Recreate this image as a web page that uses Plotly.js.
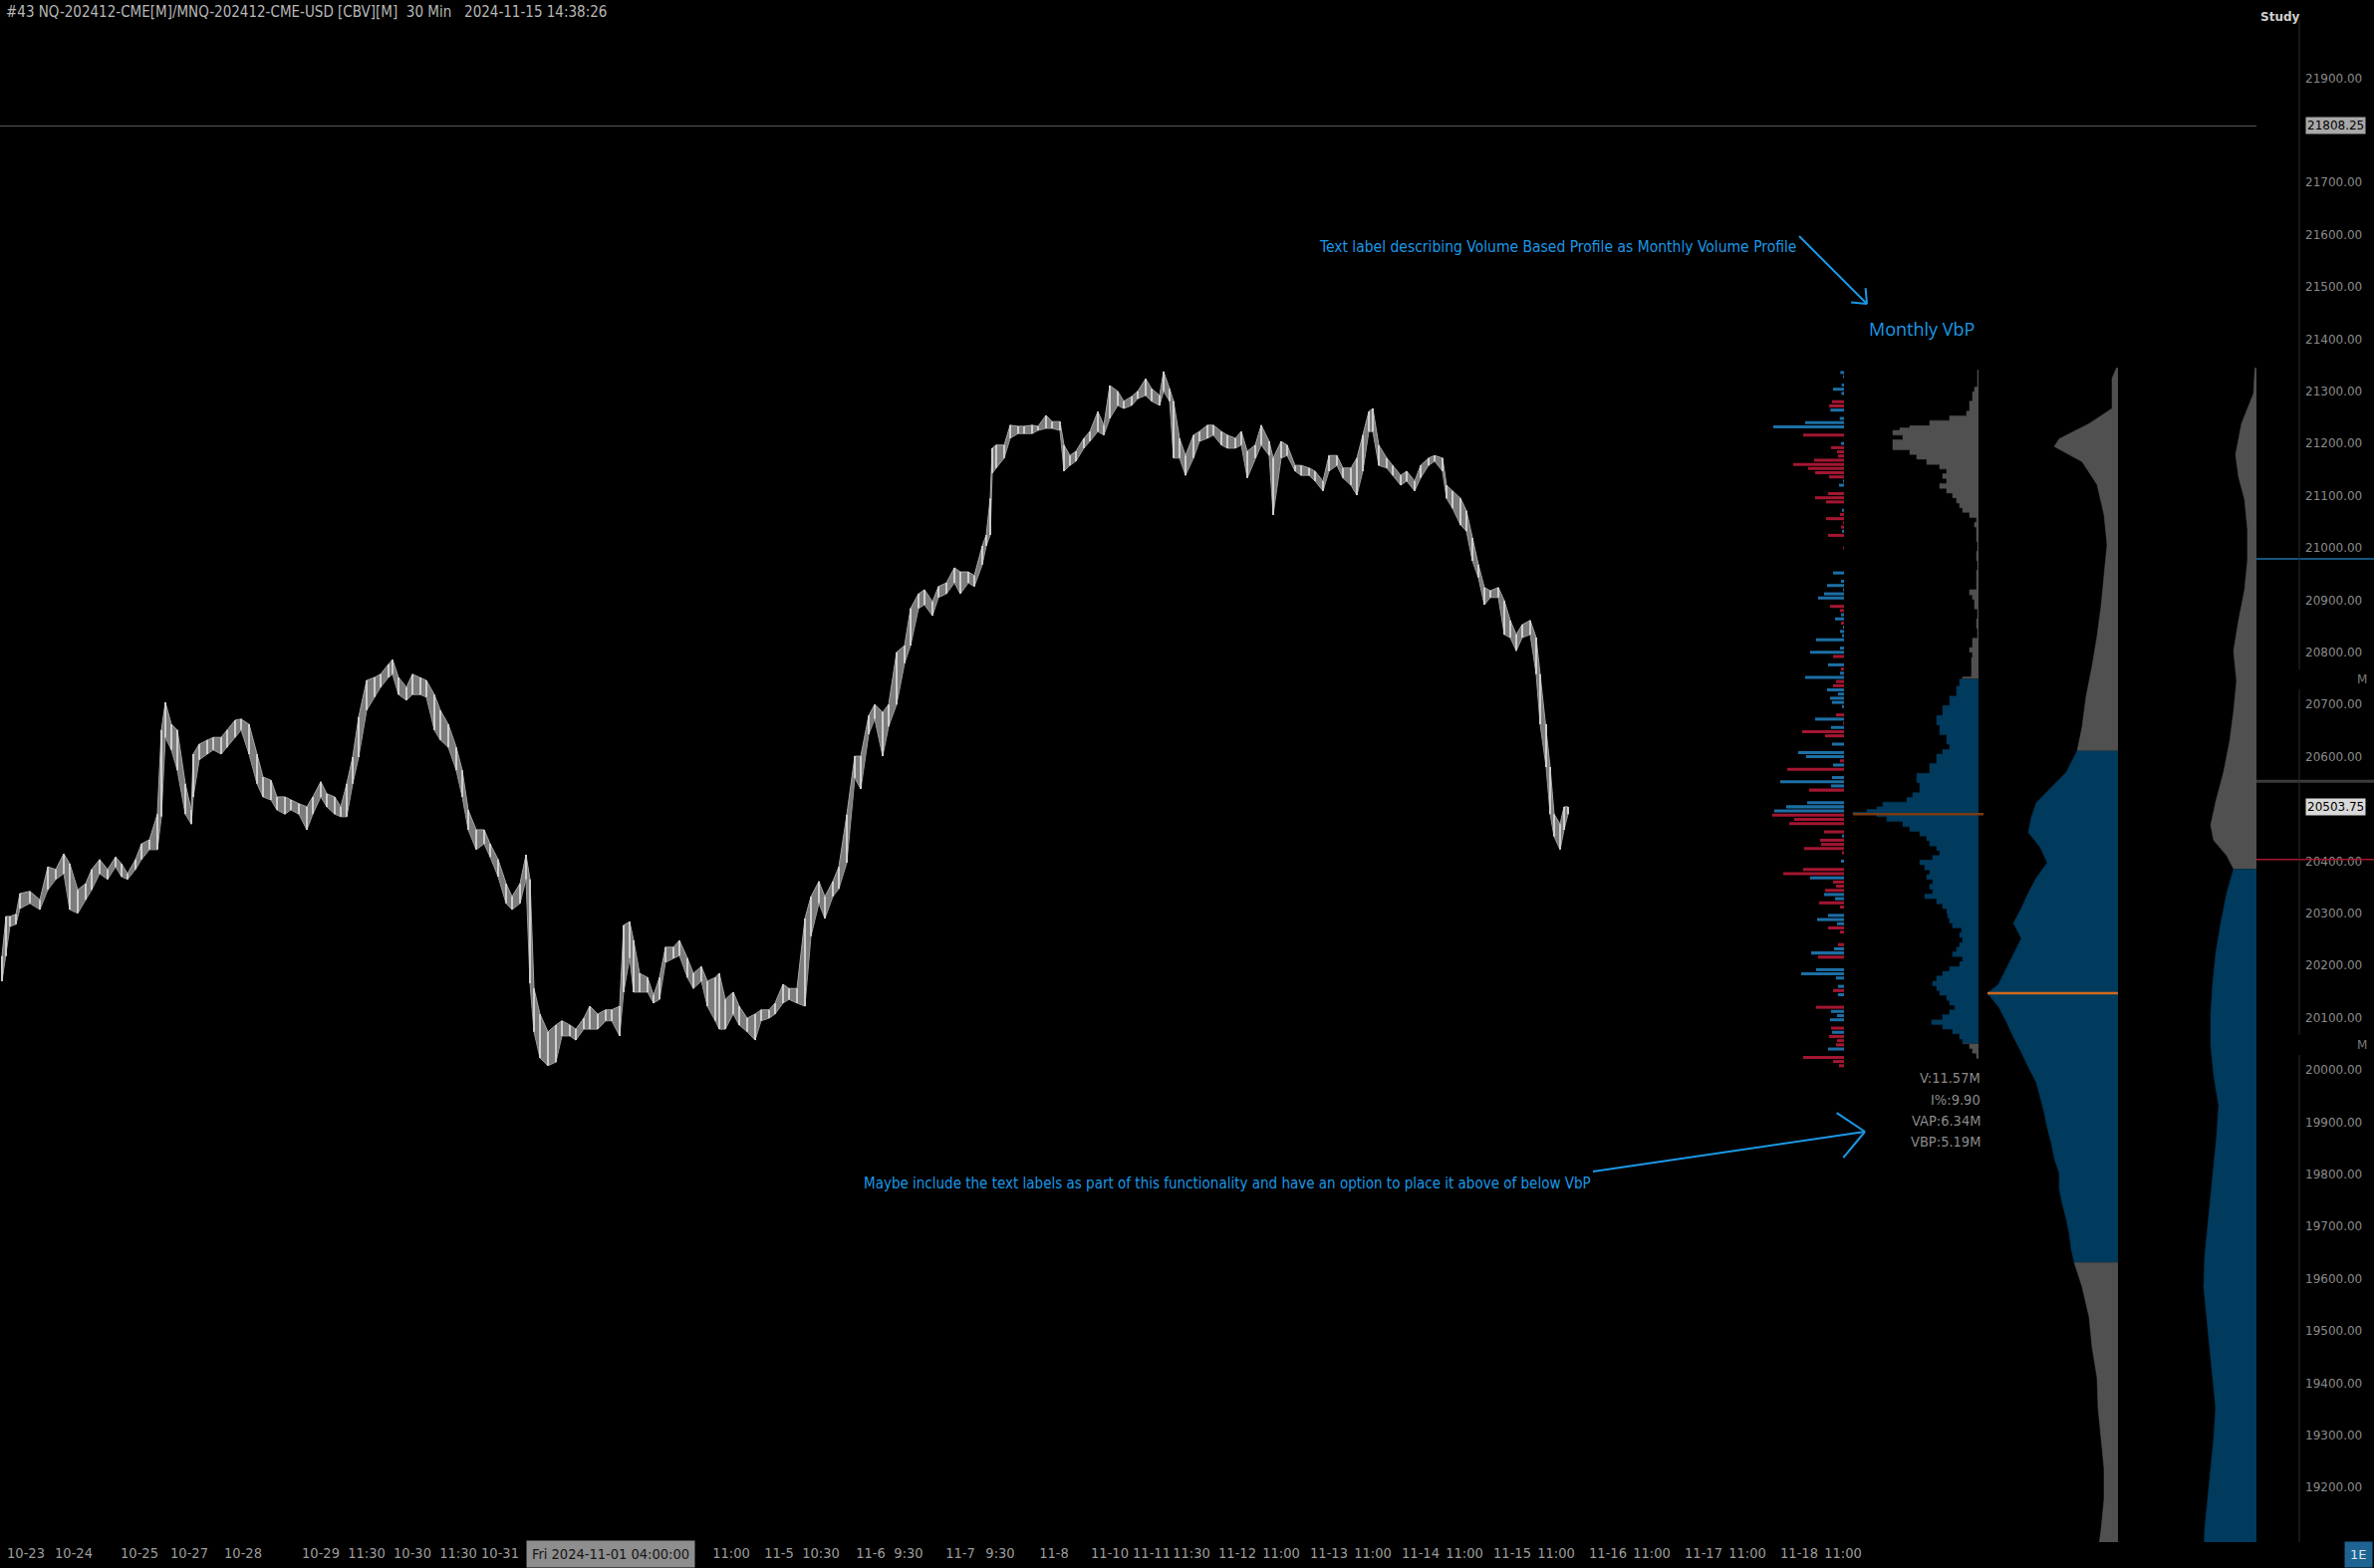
<!DOCTYPE html>
<html><head><meta charset="utf-8">
<script src="https://cdn.plot.ly/plotly-3.0.1.min.js"></script>
<style>html,body{margin:0;padding:0;background:#000;overflow:hidden}#chart{width:2383px;height:1574px}</style>
</head><body><div id="chart"></div>
<script>
// ---------------- DATA ----------------
// 30-min bars of NQ, sampled (bar number from left edge), highs / lows
const priceBar = [1,3,5,8,10,15,20,24,28,32,35,39,43,46,50,54,58,61,64,68,71,75,79,81,83,86,89,93,96,97,100,104,107,111,114,118,121,125,129,132,136,139,143,146,150,154,157,161,164,168,171,174,177,180,184,188,191,195,197,200,204,207,211,214,218,221,225,229,232,235,239,243,246,250,254,257,261,264,266,268,271,275,279,282,286,289,293,296,300,304,307,311,313,316,318,321,325,328,331,334,338,341,345,348,352,355,359,361,364,368,371,375,379,382,386,389,393,396,400,404,407,411,414,418,421,425,429,432,436,439,443,446,450,454,457,461,464,468,471,475,479,482,486,489,493,495,497,498,500,504,507,511,514,518,521,525,528,532,534,537,540,544,547,551,554,557,561,564,568,571,575,578,582,584,587,589,592,595,599,602,606,609,613,616,620,623,626,630,633,637,639,643,646,650,653,657,660,664,667,671,674,678,681,684,687,689,692,696,699,703,706,710,713,717,720,724,726,729,733,736,739,742,745,748,752,755,758,761,764,768,771,773,776,778,780,783,785,787];
const priceHigh = [20218,20294,20294,20298,20338,20342,20326,20389,20384,20414,20395,20345,20357,20384,20403,20384,20408,20395,20376,20403,20433,20441,20490,20651,20704,20662,20651,20548,20498,20605,20624,20632,20637,20637,20651,20670,20672,20662,20605,20561,20555,20523,20523,20517,20510,20504,20523,20552,20529,20523,20504,20548,20599,20676,20746,20752,20758,20777,20786,20752,20733,20758,20752,20746,20719,20689,20662,20618,20574,20498,20460,20460,20433,20403,20357,20332,20357,20412,20365,20156,20107,20073,20086,20094,20086,20078,20099,20122,20107,20115,20115,20122,20277,20284,20248,20185,20177,20143,20177,20235,20235,20248,20214,20185,20198,20170,20177,20185,20135,20149,20122,20099,20107,20115,20115,20128,20164,20156,20156,20290,20332,20361,20332,20361,20389,20489,20601,20601,20679,20700,20685,20700,20800,20813,20884,20912,20920,20897,20926,20933,20962,20954,20954,20947,21004,21025,21095,21191,21197,21197,21235,21233,21233,21235,21233,21254,21242,21242,21197,21177,21185,21210,21223,21261,21235,21311,21300,21281,21290,21300,21324,21305,21292,21338,21305,21281,21210,21177,21216,21223,21235,21235,21223,21216,21210,21223,21185,21197,21235,21204,21172,21204,21197,21158,21158,21153,21147,21128,21177,21177,21153,21153,21172,21216,21261,21267,21197,21172,21158,21139,21147,21128,21158,21172,21177,21172,21120,21109,21095,21071,21019,20968,20924,20918,20924,20899,20861,20834,20853,20861,20828,20758,20662,20580,20490,20471,20504,20504];
const priceLow = [20170,20218,20275,20279,20309,20319,20307,20345,20365,20376,20307,20300,20326,20345,20376,20365,20389,20370,20365,20384,20403,20422,20422,20485,20637,20613,20574,20490,20471,20523,20594,20605,20613,20605,20618,20637,20651,20605,20548,20523,20517,20498,20490,20498,20490,20460,20490,20523,20504,20490,20485,20485,20548,20599,20689,20714,20733,20752,20758,20719,20708,20719,20719,20714,20651,20632,20618,20574,20523,20460,20422,20433,20408,20370,20319,20307,20319,20365,20166,20073,20023,20008,20015,20065,20065,20057,20078,20078,20078,20094,20094,20065,20149,20214,20149,20149,20149,20128,20135,20206,20214,20219,20177,20156,20170,20122,20094,20078,20078,20107,20086,20073,20057,20094,20099,20107,20128,20135,20128,20122,20256,20319,20290,20332,20347,20397,20559,20538,20643,20672,20601,20658,20700,20779,20813,20884,20891,20870,20905,20912,20933,20912,20933,20926,20968,21004,21025,21143,21153,21172,21210,21219,21219,21219,21225,21229,21229,21225,21147,21158,21166,21191,21204,21223,21216,21248,21273,21267,21273,21286,21292,21281,21273,21300,21281,21172,21172,21139,21172,21204,21210,21216,21197,21191,21191,21197,21134,21172,21197,21177,21063,21172,21177,21147,21139,21139,21128,21109,21147,21158,21134,21120,21101,21147,21223,21223,21158,21153,21139,21120,21128,21109,21134,21158,21166,21147,21095,21076,21044,21032,20975,20943,20891,20905,20905,20834,20828,20803,20828,20834,20758,20662,20580,20490,20447,20422,20460,20490];

// x-axis labels (bar number, text)
const xTickBars = [13,37,70,95,122,161,184,207,230,251,367,391,412,437,456,482,502,529,557,578,598,621,643,667,689,713,735,759,781,807,829,855,877,903,925];
const xTickText = ["10-23","10-24","10-25","10-27","10-28","10-29","11:30","10-30","11:30","10-31","11:00","11-5","10:30","11-6","9:30","11-7","9:30","11-8","11-10","11-11","11:30","11-12","11:00","11-13","11:00","11-14","11:00","11-15","11:00","11-16","11:00","11-17","11:00","11-18","11:00"];
const crosshairBar = 306.5, crosshairText = "Fri 2024-11-01 04:00:00";

// price axis
const yTickVals = [19200,19300,19400,19500,19600,19700,19800,19900,20000,20100,20200,20300,20400,20600,20700,20800,20900,21000,21100,21200,21300,21400,21500,21600,21700,21900];
const lastPrice = 20503.75, markedLevel = 21808.25;
const blueLevel = 20979, redLevel = 20403, greyLevel = 20553;

// Profile A: buy(+)/sell(-) volume per 8-point row, from top row down
const PROF_A_TOP = 21344, PROF_A_STEP = 8;
const profADelta = [6,17,9,6,13,39,14,6,-42,-51,47,-6,19,123,219,6,-129,-6,15,-45,-27,-24,-96,-159,-114,-93,-51,9,21,6,-54,-93,-60,-6,12,-18,-60,-9,-15,12,-54,6,6,-9,6,6,-6,-6,-6,39,6,15,57,9,66,84,6,-48,-18,15,33,-15,9,18,12,90,6,18,108,-39,-6,54,-15,18,123,-30,-39,57,24,48,42,12,6,-30,93,-9,45,-132,-63,6,42,-6,144,120,-18,39,-177,6,42,198,45,-111,6,-6,117,180,216,-222,-156,-171,-6,-66,12,-78,-75,-126,-12,-6,15,-6,-129,-189,108,-39,-30,-63,66,33,-81,-18,6,54,87,27,-54,-18,6,-6,-24,36,105,-84,-6,6,90,135,30,6,24,-39,24,-6,-6,-90,45,27,48,6,-45,42,-51,-27,-30,54,6,-129,-39,-21];

// Profile B: Monthly VbP (price level, volume)
const profBPrice = [21341,21308,21299,21281,21262,21253,21244,21234,21230,21225,21220,21216,21207,21197,21188,21179,21170,21160,21151,21142,21133,21123,21114,21105,21096,21086,21077,21068,21058,21049,21040,21031,21012,20994,20975,20957,20938,20920,20910,20901,20883,20864,20846,20827,20809,20800,20790,20772,20753,20749,20735,20716,20698,20679,20661,20642,20624,20614,20605,20587,20568,20550,20531,20522,20513,20504,20499,20494,20490,20485,20476,20466,20457,20448,20439,20429,20420,20411,20402,20393,20383,20374,20365,20356,20346,20337,20328,20318,20309,20300,20291,20281,20272,20263,20254,20244,20235,20226,20217,20207,20198,20189,20180,20170,20161,20152,20143,20133,20124,20115,20106,20096,20087,20078,20069,20059,20050,20041,20032,20022,20009];
const profBVol = [3,6,9,11,14,17,34,54,74,84,91,91,81,91,91,74,67,57,44,37,41,37,44,37,31,27,24,21,14,7,9,7,7,6,7,6,7,7,14,11,9,6,7,6,11,14,11,12,12,21,24,27,34,41,47,44,37,34,41,47,54,67,64,71,77,101,107,117,131,107,97,81,74,64,57,54,47,44,51,64,59,54,57,51,54,51,59,47,41,37,36,34,31,22,24,21,24,27,31,21,24,34,41,47,51,47,44,37,34,29,34,41,52,41,31,24,21,14,11,7,4];
const profB_VAH = 20749, profB_VAL = 20050, profB_POC = 20490;
const profBStats = ["V:11.57M","I%:9.90","VAP:6.34M","VBP:5.19M"];

// Profile C
const profCPrice = [21345,21325,21267,21238,21209,21194,21165,21121,21063,21006,20948,20889,20831,20774,20716,20658,20611,20570,20541,20512,20484,20455,20426,20397,20368,20339,20310,20281,20252,20222,20193,20164,20147,20121,20092,20063,20034,20005,19976,19947,19918,19889,19860,19831,19802,19773,19744,19715,19686,19657,19631,19584,19526,19468,19410,19352,19294,19236,19178,19120,19062];
const profCVol = [1.5,6,6,29,59,64,36,21,14,11,14,17,21,26,32,36,41,52,67,82,87,90,78,71,82,90,97,105,97,105,112,120,131,120,112,105,97,90,82,78,74,71,67,64,59,59,56,52,49,47,44,36,29,26,21,20,17,14,14,17,21];
const profC_VAH = 20611, profC_VAL = 19631, profC_POC = 20147;

// Profile D
const profDPrice = [21345,21296,21238,21179,21136,21093,21035,20977,20919,20861,20803,20745,20687,20629,20571,20513,20469,20440,20411,20385,20338,20280,20222,20164,20106,20048,19990,19932,19874,19816,19758,19700,19642,19584,19526,19468,19410,19352,19294,19236,19178,19120,19062];
const profDVol = [1.5,3,15,21,18,12,9,9,12,18,23,20,23,27,33,41,46,43,30,23,30,36,41,44,46,46,43,38,40,43,46,49,52,53,50,47,44,41,43,46,49,52,53];
const profD_VAH = 20385;

// ---------------- LAYOUT HELPERS ----------------
const W = 2383, H = 1574, MR = 118, MB = 26;
const PW = W - MR, PH = H - MB;
const Y_MIN = 19095.4, Y_MAX = 22049.6;
const px2x = px => px / PW;
const px2y = py => 1 - py / PH;
const price2y = p => (p - Y_MIN) / (Y_MAX - Y_MIN);
const dom = (l, r) => [l / PW, r / PW];

const COND = "'DejaVu Sans Condensed', 'Liberation Sans Narrow', 'Roboto Condensed', 'Arial Narrow', sans-serif";
const GREY = '#505050', VA_BLUE = '#003a5c', BUY = '#1d6fa5', SELL = '#a31631', ANNO = '#1b98e6';

const traces = [];
// price band (low..high)
traces.push({type:'scatter', mode:'lines', x:priceBar, y:priceLow, line:{color:'#9a9a9a', width:1}, hoverinfo:'skip', showlegend:false});
traces.push({type:'scatter', mode:'lines', x:priceBar, y:priceHigh, fill:'tonexty', fillcolor:'#7c7c7c', line:{color:'#a8a8a8', width:1}, hoverinfo:'skip', showlegend:false});
// bar ranges (low-high) of each sampled bar
const rangeX = [], rangeY = [];
priceBar.forEach((b, i) => { rangeX.push(b, b, null); rangeY.push(priceLow[i], priceHigh[i], null); });
traces.push({type:'scatter', mode:'lines', x:rangeX, y:rangeY, connectgaps:false, line:{color:'#cdcdcd', width:2}, hoverinfo:'skip', showlegend:false});

// profile A bars
const profALevels = profADelta.map((_, i) => PROF_A_TOP - i * PROF_A_STEP);
traces.push({type:'bar', orientation:'h', x:profADelta.map(Math.abs), y:profALevels, width:5.8,
  marker:{color:profADelta.map(v => v >= 0 ? BUY : SELL), line:{width:0}}, xaxis:'x2', yaxis:'y', hoverinfo:'skip', showlegend:false});

// profile segments
function segTraces(prices, vols, hi, lo, axis, shape) {
  const parts = [
    {f: p => p >= hi, c: GREY},
    {f: p => p <= hi && p >= lo, c: VA_BLUE},
    {f: p => p <= lo, c: GREY}
  ];
  parts.forEach(pt => {
    const yy = [], xx = [];
    prices.forEach((p, i) => { if (pt.f(p)) { yy.push(p); xx.push(vols[i]); } });
    if (yy.length > 1) traces.push({type:'scatter', mode:'lines', x:xx, y:yy, xaxis:axis, yaxis:'y',
      line:{color:pt.c, width:0.5, shape:shape}, fill:'tozerox', fillcolor:pt.c, hoverinfo:'skip', showlegend:false});
  });
}
segTraces(profBPrice, profBVol, profB_VAH, profB_VAL, 'x3', 'hv');
segTraces(profCPrice, profCVol, profC_VAH, profC_VAL, 'x4', 'linear');
segTraces(profDPrice, profDVol, profD_VAH, 0, 'x5', 'linear');

// ---------------- SHAPES ----------------
const shapes = [];
const seg = (x0, y0, x1, y1, color, width) => ({type:'line', xref:'paper', yref:'paper', x0:px2x(x0), y0:px2y(y0), x1:px2x(x1), y1:px2y(y1), line:{color, width}});
shapes.push({type:'line', xref:'paper', yref:'y', x0:0, x1:1, y0:markedLevel, y1:markedLevel, line:{color:'#5a5a5a', width:1}});
shapes.push({type:'line', xref:'paper', yref:'y', x0:px2x(1860), x1:px2x(1991), y0:profB_POC, y1:profB_POC, line:{color:'#7a3a12', width:2.5}});
shapes.push({type:'line', xref:'paper', yref:'y', x0:px2x(1995), x1:px2x(2126), y0:profC_POC, y1:profC_POC, line:{color:'#d06a1e', width:2.5}});
// price-scale lines
[[blueLevel,'#1f6fa8',1.5],[redLevel,'#a5162f',1.5],[greyLevel,'#3a3a3a',3]].forEach(([p,c,w]) => {
  shapes.push({type:'line', xref:'paper', yref:'paper', x0:1, x1:W / PW, y0:price2y(p), y1:price2y(p), line:{color:c, width:w}});
});
// price-scale separator
[[20,672],[692,1039],[1059,PH]].forEach(([a,b]) => shapes.push(seg(2308, a, 2308, b, '#2a2a2a', 1)));
// hand-drawn arrows
function arrow(x0, y0, x1, y1, len, ang) {
  shapes.push(seg(x0, y0, x1, y1, ANNO, 2));
  const a = Math.atan2(y1 - y0, x1 - x0);
  [-1, 1].forEach(s => {
    const b = a + Math.PI + s * ang * Math.PI / 180;
    shapes.push(seg(x1, y1, x1 + len * Math.cos(b), y1 + len * Math.sin(b), ANNO, 2));
  });
}
arrow(1806, 237, 1874, 305, 16, 40);
arrow(1599, 1176, 1872, 1136, 34, 42);

// ---------------- ANNOTATIONS ----------------
const ann = [];
const txt = (text, xpx, ypx, xanchor, font, extra) => ann.push(Object.assign({text, xref:'paper', yref:'paper', x:px2x(xpx), y:px2y(ypx), xanchor, yanchor:'middle', showarrow:false, font}, extra || {}));
txt("#43 NQ-202412-CME[M]/MNQ-202412-CME-USD [CBV][M]\u00a0\u00a030 Min\u00a0\u00a0\u00a02024-11-15 14:38:26", 4, 12, 'left', {family:COND, size:15, color:'#b8b8b8'});
txt("<b>Study</b>", 2267, 17, 'left', {family:'DejaVu Sans', size:12, color:'#d0d0d0'});
txt("Monthly VbP", 1929, 330, 'center', {family:'Open Sans', size:18, color:ANNO});
txt("Text label describing Volume Based Profile as Monthly Volume Profile", 1805, 248, 'right', {family:COND, size:15.5, color:ANNO});
txt("Maybe include the text labels as part of this functionality and have an option to place it above of below VbP", 865, 1188, 'left', {family:COND, size:15, color:ANNO});
[1082, 1104, 1125, 1146].forEach((py, i) => txt(profBStats[i], 1990, py, 'right', {family:COND, size:14.5, color:'#8a8a8a'}));
txt("M", 2378, 682, 'right', {family:'DejaVu Sans', size:12, color:'#7a7a7a'});
txt("M", 2378, 1049, 'right', {family:'DejaVu Sans', size:12, color:'#7a7a7a'});
txt("1E", 2382, 1560, 'right', {family:'DejaVu Sans', size:13, color:'#d8e6f0'}, {bgcolor:'#1e6391', borderpad:5});
// price-scale boxed labels
ann.push({text:markedLevel.toFixed(2), xref:'paper', yref:'y', x:px2x(2314), y:markedLevel, xanchor:'left', yanchor:'middle', showarrow:false, bgcolor:'#a8a8a8', borderpad:1, font:{family:'DejaVu Sans', size:12, color:'#000'}});
ann.push({text:lastPrice.toFixed(2), xref:'paper', yref:'y', x:px2x(2314), y:lastPrice, xanchor:'left', yanchor:'middle', showarrow:false, bgcolor:'#d8d8d8', borderpad:1, font:{family:'DejaVu Sans', size:12, color:'#000'}});
// crosshair time label
ann.push({text:crosshairText, xref:'x', yref:'paper', x:crosshairBar, y:px2y(1560), xanchor:'center', yanchor:'middle', showarrow:false, bgcolor:'#8e8e8e', borderpad:5, font:{family:COND, size:14.5, color:'#151515'}});

// ---------------- LAYOUT ----------------
const hidden = (d, r) => ({domain:d, range:r, visible:false, anchor:'y', fixedrange:true, showgrid:false, zeroline:false});
const layout = {
  width:W, height:H, margin:{l:0, r:MR, t:0, b:MB, pad:0},
  paper_bgcolor:'#000', plot_bgcolor:'#000', showlegend:false, barmode:'overlay',
  xaxis:{domain:[0,1], range:[0, PW / 2], tickmode:'array', tickvals:xTickBars, ticktext:xTickText, tickangle:0,
    tickfont:{family:COND, size:14.5, color:'#9c9c9c'}, ticks:'', showgrid:false, zeroline:false, showline:false, fixedrange:true, automargin:false},
  xaxis2:hidden(dom(1773, 1853), [240, 0]),
  xaxis3:hidden(dom(1851, 1991), [140, 0]),
  xaxis4:hidden(dom(1986, 2126), [140, 0]),
  xaxis5:hidden(dom(2195, 2265), [70, 0]),
  yaxis:{domain:[0,1], range:[Y_MIN, Y_MAX], side:'right', anchor:'x', tickmode:'array', tickvals:yTickVals,
    ticktext:yTickVals.map(v => v.toFixed(2)), tickfont:{family:'DejaVu Sans', size:12, color:'#8a8a8a'},
    ticks:'', ticklabelstandoff:48, showgrid:false, zeroline:false, showline:false, fixedrange:true, automargin:false},
  shapes, annotations:ann
};
Plotly.newPlot('chart', traces, layout, {displayModeBar:false, staticPlot:true});
</script></body></html>
